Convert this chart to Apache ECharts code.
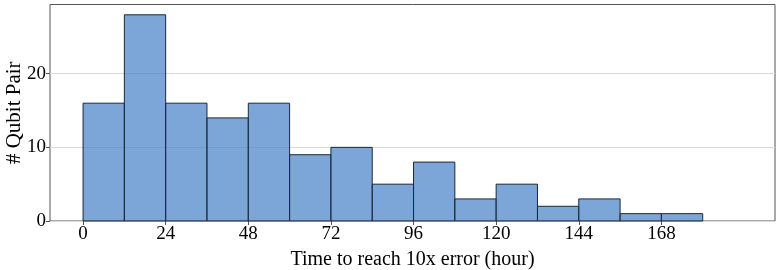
<!DOCTYPE html>
<html><head><meta charset="utf-8">
<script src="https://cdn.jsdelivr.net/npm/echarts@6/dist/echarts.min.js"></script>
<style>html,body{margin:0;padding:0;background:#fff}#c{width:780px;height:270px}</style>
</head><body><div id="c"></div>
<script>
const binStarts = [0,12,24,36,48,60,72,84,96,108,120,132,144,156,168];
const binWidth = 12;
const counts = [16,28,16,14,16,9,10,5,8,3,5,2,3,1,1];
const xTicks = [0,24,48,72,96,120,144,168];
const yTicks = [0,10,20];

const data = binStarts.map((s,i)=>[s, s+binWidth, counts[i]]);
const chart = echarts.init(document.getElementById('c'));
const font = 'Liberation Serif';
chart.setOption({
  animation:false,
  grid:{left:50,right:5,top:4.5,bottom:49,containLabel:false,outerBoundsMode:'none',show:true,borderColor:'#555',borderWidth:1,backgroundColor:'transparent'},
  xAxis:{type:'value',min:-9.6,max:201,
    name:'Time to reach 10x error (hour)',nameLocation:'middle',nameGap:29,nameMoveOverlap:false,
    nameTextStyle:{fontFamily:font,fontSize:20,color:'#000'},
    axisLine:{show:false,onZero:false},splitLine:{show:false},
    axisTick:{show:true,customValues:xTicks,length:4,lineStyle:{color:'#555'}},
    axisLabel:{customValues:xTicks,fontFamily:font,fontSize:19,color:'#000',margin:4}
  },
  yAxis:{type:'value',min:0,max:29.4,
    name:'# Qubit Pair',nameLocation:'middle',nameGap:25,nameRotate:90,nameMoveOverlap:false,
    nameTextStyle:{fontFamily:font,fontSize:21,color:'#000'},
    axisLine:{show:false,onZero:false},
    splitLine:{show:true,lineStyle:{color:'#d9d9d9',width:1}},
    axisTick:{show:true,customValues:yTicks,length:4,lineStyle:{color:'#555'}},
    axisLabel:{customValues:yTicks,fontFamily:font,fontSize:19,color:'#000',margin:4}
  },
  series:[{type:'custom',data:data,
    renderItem:function(params,api){
      const p0=api.coord([api.value(0),api.value(2)]);
      const p1=api.coord([api.value(1),0]);
      return {type:'group',children:[
        {type:'rect',shape:{x:p0[0],y:p0[1],width:p1[0]-p0[0],height:p1[1]-p0[1]},
          style:{fill:'rgba(68,128,200,0.7)',stroke:null}},
        {type:'rect',shape:{x:p0[0],y:p0[1],width:p1[0]-p0[0],height:p1[1]-p0[1]},
          style:{fill:null,stroke:'#1c2836',lineWidth:1}}
      ]};
    },
    encode:{x:[0,1],y:2}
  }]
});
</script></body></html>
